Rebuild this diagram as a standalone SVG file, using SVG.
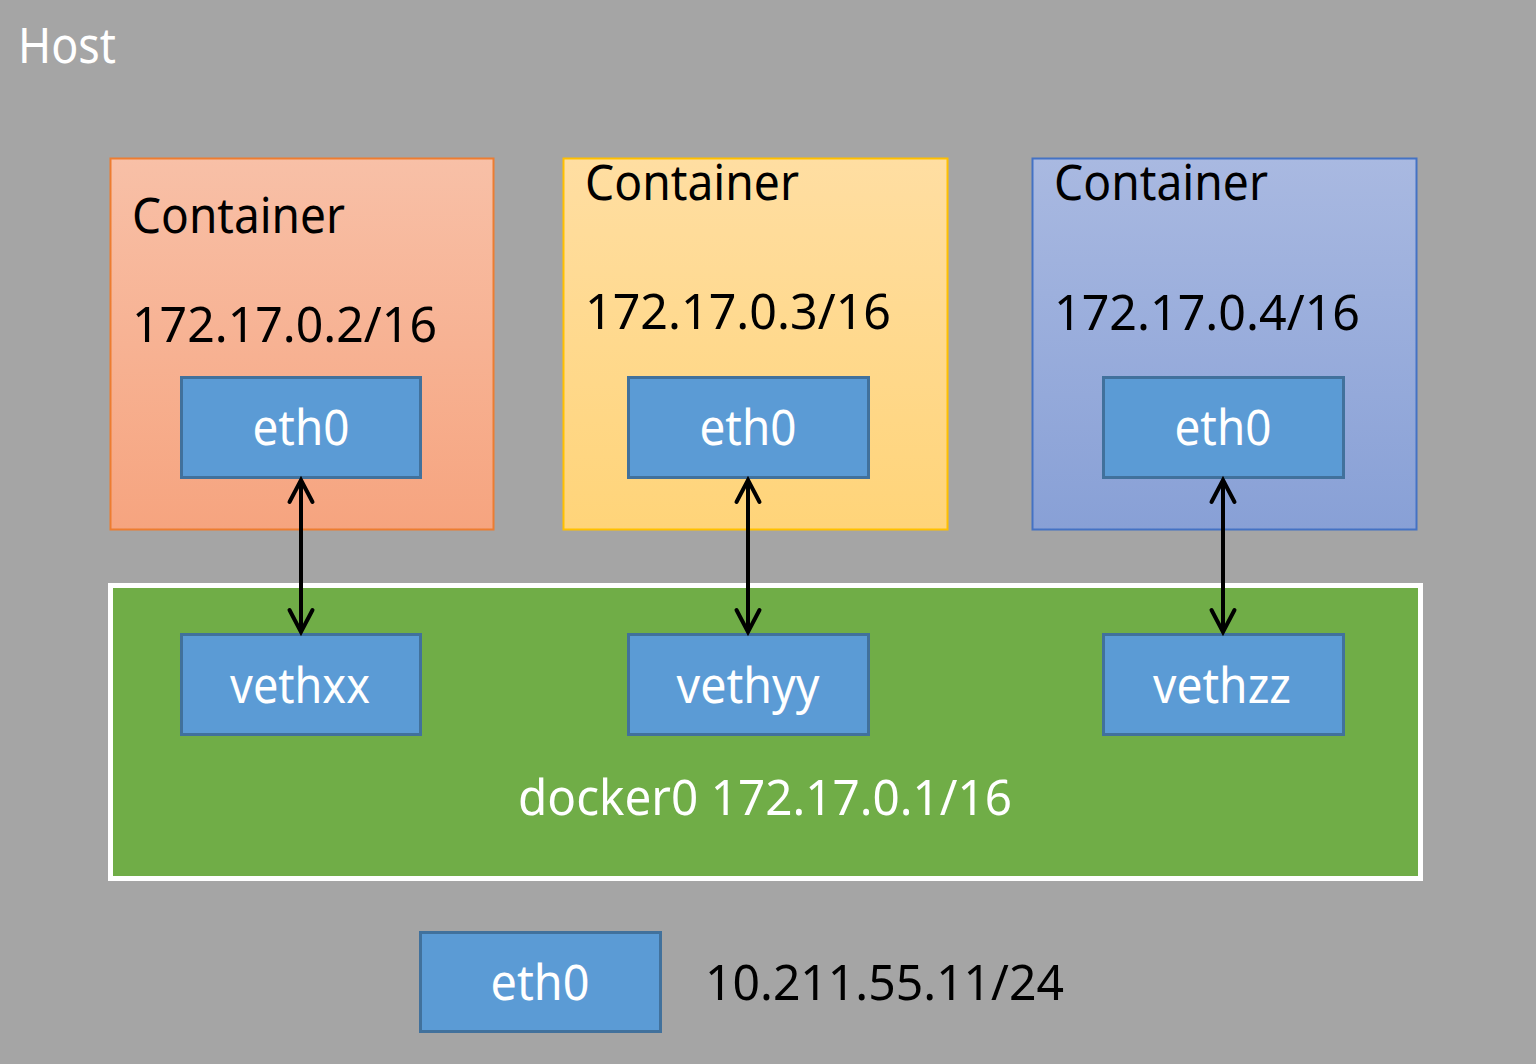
<svg xmlns="http://www.w3.org/2000/svg" width="1536" height="1064" viewBox="0 0 1536 1064">
<defs>
<linearGradient id="gOrange" x1="0" y1="0" x2="0" y2="1"><stop offset="0" stop-color="#F8C0A7"/><stop offset="1" stop-color="#F6A47F"/></linearGradient>
<linearGradient id="gYellow" x1="0" y1="0" x2="0" y2="1"><stop offset="0" stop-color="#FFDEA2"/><stop offset="1" stop-color="#FFD479"/></linearGradient>
<linearGradient id="gBlue" x1="0" y1="0" x2="0" y2="1"><stop offset="0" stop-color="#A9B9E1"/><stop offset="1" stop-color="#88A0D6"/></linearGradient>
<marker id="arr" markerUnits="userSpaceOnUse" markerWidth="30" markerHeight="30" refX="25" refY="15" orient="auto-start-reverse" viewBox="0 0 30 30">
<path d="M3,3.5 L25,15 L3,26.5" fill="none" stroke="#000" stroke-width="4" stroke-linecap="round" stroke-linejoin="miter"/>
</marker>
</defs>
<style>
text{font-family:"Noto Sans","Open Sans","DejaVu Sans",sans-serif;font-size:49px;}
.w{fill:#fff;}
.k{fill:#000;}
.nic{fill:#5B9BD5;stroke:#41719C;stroke-width:3;}
.c{text-anchor:middle;}
</style>
<rect x="0" y="0" width="1536" height="1064" fill="#A5A5A5"/>
<g id="host"><text class="w" x="18" y="63" textLength="98" lengthAdjust="spacingAndGlyphs">Host</text></g>

<g id="container1">
<rect x="110.5" y="158.5" width="383" height="371" fill="url(#gOrange)" stroke="#ED7D31" stroke-width="2"/>
<text class="k" x="132" y="233" textLength="213" lengthAdjust="spacingAndGlyphs">Container</text>
<text class="k" x="132" y="342" textLength="305" lengthAdjust="spacingAndGlyphs">172.17.0.2/16</text>
</g>
<g id="container2">
<rect x="563.5" y="158.5" width="384" height="371" fill="url(#gYellow)" stroke="#FFC000" stroke-width="2"/>
<text class="k" x="585" y="200" textLength="214" lengthAdjust="spacingAndGlyphs">Container</text>
<text class="k" x="585" y="329" textLength="306" lengthAdjust="spacingAndGlyphs">172.17.0.3/16</text>
</g>
<g id="container3">
<rect x="1032.5" y="158.5" width="384" height="371" fill="url(#gBlue)" stroke="#4472C4" stroke-width="2"/>
<text class="k" x="1054" y="200" textLength="214" lengthAdjust="spacingAndGlyphs">Container</text>
<text class="k" x="1054" y="330" textLength="306" lengthAdjust="spacingAndGlyphs">172.17.0.4/16</text>
</g>

<g id="c1-eth0"><rect class="nic" x="181.5" y="377.5" width="239" height="100"/><text class="w c" x="301" y="445" textLength="97" lengthAdjust="spacingAndGlyphs">eth0</text></g>
<g id="c2-eth0"><rect class="nic" x="628.5" y="377.5" width="240" height="100"/><text class="w c" x="748" y="445" textLength="97" lengthAdjust="spacingAndGlyphs">eth0</text></g>
<g id="c3-eth0"><rect class="nic" x="1103.5" y="377.5" width="240" height="100"/><text class="w c" x="1223" y="445" textLength="97" lengthAdjust="spacingAndGlyphs">eth0</text></g>

<g id="docker0">
<rect x="110.5" y="585.5" width="1310" height="293" fill="#70AD47" stroke="#FFFFFF" stroke-width="5"/>
<text class="w c" x="765" y="815" textLength="494" lengthAdjust="spacingAndGlyphs">docker0 172.17.0.1/16</text>
</g>
<g id="vethxx"><rect class="nic" x="181.5" y="634.5" width="239" height="100"/><text class="w c" x="300" y="703" textLength="140" lengthAdjust="spacingAndGlyphs">vethxx</text></g>
<g id="vethyy"><rect class="nic" x="628.5" y="634.5" width="240" height="100"/><text class="w c" x="748" y="703" textLength="143" lengthAdjust="spacingAndGlyphs">vethyy</text></g>
<g id="vethzz"><rect class="nic" x="1103.5" y="634.5" width="240" height="100"/><text class="w c" x="1222" y="703" textLength="138" lengthAdjust="spacingAndGlyphs">vethzz</text></g>

<g id="host-eth0">
<rect class="nic" x="420.5" y="932.5" width="240" height="99"/>
<text class="w c" x="540" y="1000" textLength="99" lengthAdjust="spacingAndGlyphs">eth0</text>
</g>
<g id="host-ip"><text class="k" x="705" y="1000" textLength="359" lengthAdjust="spacingAndGlyphs">10.211.55.11/24</text></g>

<g id="connectors" stroke="#000" stroke-width="4" fill="none">
<line x1="301" y1="480" x2="301" y2="632" marker-start="url(#arr)" marker-end="url(#arr)"/>
<line x1="748" y1="480" x2="748" y2="632" marker-start="url(#arr)" marker-end="url(#arr)"/>
<line x1="1223" y1="480" x2="1223" y2="632" marker-start="url(#arr)" marker-end="url(#arr)"/>
</g>
</svg>
